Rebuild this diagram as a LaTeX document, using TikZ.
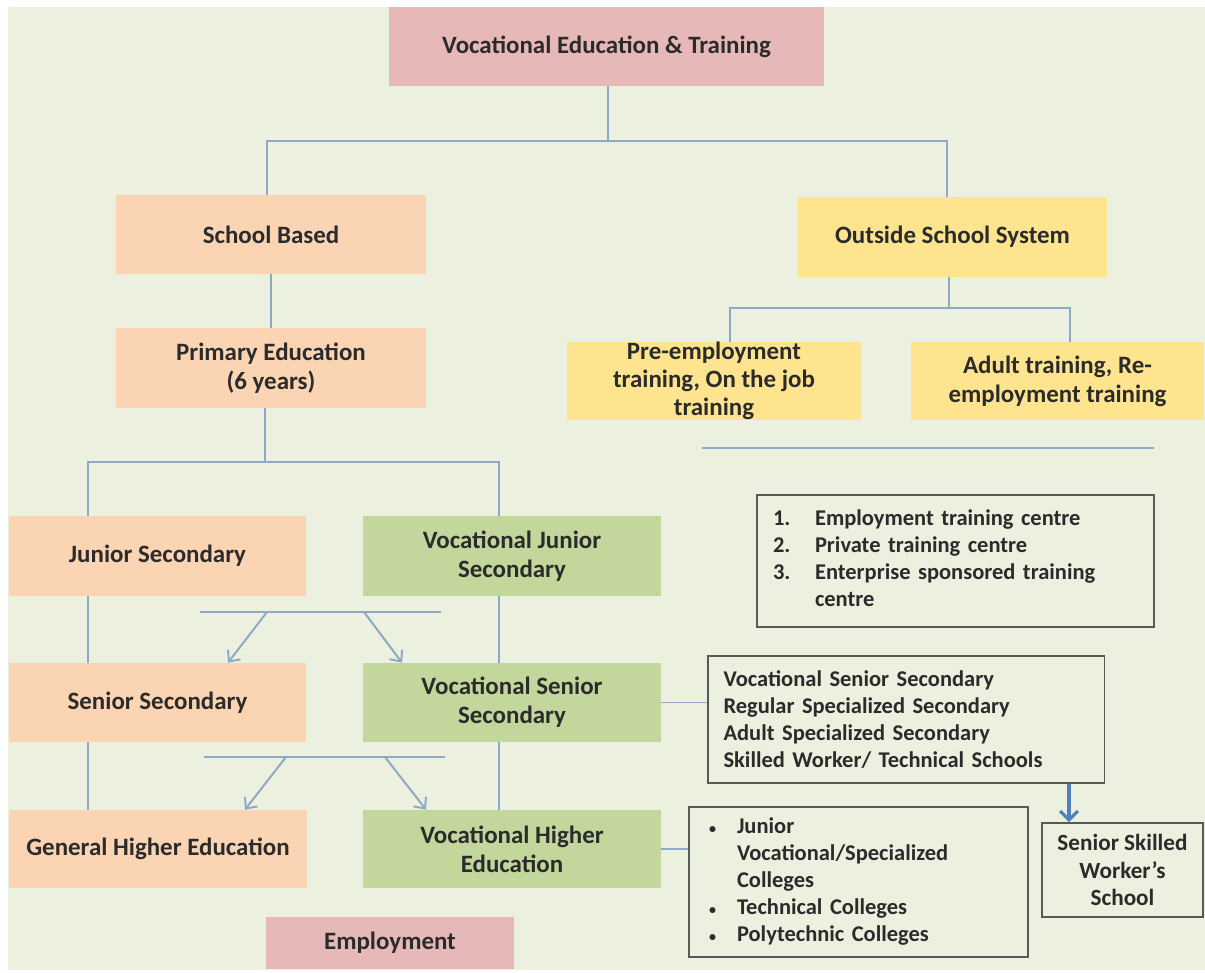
\documentclass[tikz,border=0pt]{standalone}
\usepackage{fontspec}
\setmainfont{Carlito}
\usetikzlibrary{arrows.meta}

\definecolor{bgcol}{HTML}{EBF0DF}
\definecolor{pinkbox}{HTML}{E6B9B8}
\definecolor{peachbox}{HTML}{FBD4B4}
\definecolor{greenbox}{HTML}{C3D69B}
\definecolor{yellowbox}{HTML}{FEE48E}
\definecolor{linkcol}{HTML}{8DA9C4}
\definecolor{framecol}{HTML}{595959}
\definecolor{arrowblue}{HTML}{4F81BD}
\definecolor{textcol}{HTML}{2B2B2B}

\newcommand{\smallbullet}{{\fontsize{8}{8}\selectfont\textbullet}}

\begin{document}
\begin{tikzpicture}[x=0.02cm,y=-0.02cm,
    every node/.style={text=textcol},
    filled/.style={fill=#1, inner ysep=0pt, align=center, font=\fontsize{14.2}{16.6}\selectfont\bfseries},
    frame/.style={draw=framecol, line width=1.1pt, inner xsep=0.32cm, align=left, font=\fontsize{12.8}{15.4}\selectfont\bfseries},
    link/.style={draw=linkcol, line width=1.1pt},
    flow/.style={link, -{Straight Barb[length=5pt,width=9pt]}},
    blueflow/.style={draw=arrowblue, line width=1.8pt, -{Straight Barb[length=5pt,width=10pt]}}]
  \useasboundingbox (0,0) rectangle (1205,973);
  \fill[bgcol] (8,7) rectangle (1205,970);

  \node[filled=pinkbox, minimum width=8.7cm, minimum height=1.58cm] (vet) at (606.5,46.5) {Vocational Education \& Training};
  \node[filled=peachbox, minimum width=6.2cm, minimum height=1.58cm] (school) at (271,234.5) {School Based};
  \node[filled=peachbox, minimum width=6.2cm, minimum height=1.6cm] (primary) at (271,368) {Primary Education\\(6 years)};
  \node[filled=yellowbox, minimum width=6.2cm, minimum height=1.6cm] (outside) at (952.5,237) {Outside School System};
  \node[filled=yellowbox, minimum width=5.88cm, minimum height=1.56cm, font=\fontsize{14.2}{16}\selectfont\bfseries] (preemp) at (714,381) {Pre-employment\\training, On the job\\training};
  \node[filled=yellowbox, minimum width=5.86cm, minimum height=1.56cm] (adult) at (1057.5,381) {Adult training, Re-\\employment training};

  \node[filled=peachbox, minimum width=5.94cm, minimum height=1.6cm] (junior) at (157.5,556) {Junior Secondary};
  \node[filled=greenbox, minimum width=5.96cm, minimum height=1.6cm] (vjunior) at (512,556) {Vocational Junior\\Secondary};
  \node[filled=peachbox, minimum width=5.94cm, minimum height=1.58cm] (senior) at (157.5,702.5) {Senior Secondary};
  \node[filled=greenbox, minimum width=5.96cm, minimum height=1.58cm] (vsenior) at (512,702.5) {Vocational Senior\\Secondary};
  \node[filled=peachbox, minimum width=5.96cm, minimum height=1.56cm] (general) at (158,849) {General Higher Education};
  \node[filled=greenbox, minimum width=5.96cm, minimum height=1.56cm] (vhigher) at (512,849) {Vocational Higher\\Education};
  \node[filled=pinkbox, minimum width=4.96cm, minimum height=1.04cm] (employment) at (390,943) {Employment};

  \node[frame, minimum width=7.94cm, minimum height=2.64cm, text width=7.3cm] (centres) at (955.5,561)
    {\begin{tabular}{@{}p{0.84cm}@{}l@{}}1. & Employment training centre\\ 2. & Private training centre\\ 3. & Enterprise sponsored training\\ & centre\end{tabular}};
  \node[frame, minimum width=7.92cm, minimum height=2.54cm, text width=7.3cm] (seclist) at (906,719.5)
    {Vocational Senior Secondary\\Regular Specialized Secondary\\Adult Specialized Secondary\\Skilled Worker/ Technical Schools};
  \node[frame, inner xsep=0.4cm, minimum width=6.78cm, minimum height=3cm, text width=5.98cm] (colleges) at (858.5,882)
    {\begin{tabular}{@{}p{0.56cm}@{}l@{}}\smallbullet & Junior\\ & Vocational/Specialized\\ & Colleges\\ \smallbullet & Technical Colleges\\ \smallbullet & Polytechnic Colleges\end{tabular}};
  \node[frame, align=center, inner xsep=2pt, minimum width=3.22cm, minimum height=1.88cm, font=\fontsize{13.2}{15.8}\selectfont\bfseries] (skilled) at (1122.5,870) {Senior Skilled\\Worker’s\\School};

  % top split
  \coordinate (topsplit) at (608,141);
  \coordinate (lsplit) at (267,141);
  \coordinate (rsplit) at (947,141);
  \draw[link] (vet.south -| topsplit) -- (topsplit);
  \draw[link] (school.north -| lsplit) -- (lsplit) -- (rsplit) -- (outside.north -| rsplit);
  \draw[link] (school.south) -- (primary.north);

  % school based branches
  \coordinate (psplit) at (265,462);
  \coordinate (jsplit) at (88,462);
  \coordinate (vsplit) at (499,462);
  \draw[link] (primary.south -| psplit) -- (psplit);
  \draw[link] (junior.north -| jsplit) -- (jsplit) -- (vsplit) -- (vjunior.north -| vsplit);
  \draw[link] (junior.south -| jsplit) -- (senior.north -| jsplit);
  \draw[link] (senior.south -| jsplit) -- (general.north -| jsplit);
  \draw[link] (vjunior.south -| vsplit) -- (vsenior.north -| vsplit);
  \draw[link] (vsenior.south -| vsplit) -- (vhigher.north -| vsplit);

  % outside school branches
  \coordinate (osplit) at (949,308);
  \coordinate (pesplit) at (730,308);
  \coordinate (adsplit) at (1070,308);
  \draw[link] (outside.south -| osplit) -- (osplit);
  \draw[link] (preemp.north -| pesplit) -- (pesplit) -- (adsplit) -- (adult.north -| adsplit);
  \draw[link] (702,448) -- (1154,448);

  % crossing bars
  \draw[link] (200,612) -- (441,612);
  \draw[flow] (267,612) -- (senior.north -| 228,0);
  \draw[flow] (364,612) -- (vsenior.north -| 402,0);
  \draw[link] (204,757) -- (445,757);
  \draw[flow] (286,757) -- (general.north -| 245,0);
  \draw[flow] (385,757) -- (vhigher.north -| 426,0);

  % side lists
  \draw[link] (vsenior.east) -- (vsenior.east -| seclist.west);
  \draw[link] (vhigher.east) -- (vhigher.east -| colleges.west);
  \coordinate (sk) at (1069,0);
  \draw[blueflow] (seclist.south -| sk) -- (skilled.north -| sk);
\end{tikzpicture}
\end{document}
